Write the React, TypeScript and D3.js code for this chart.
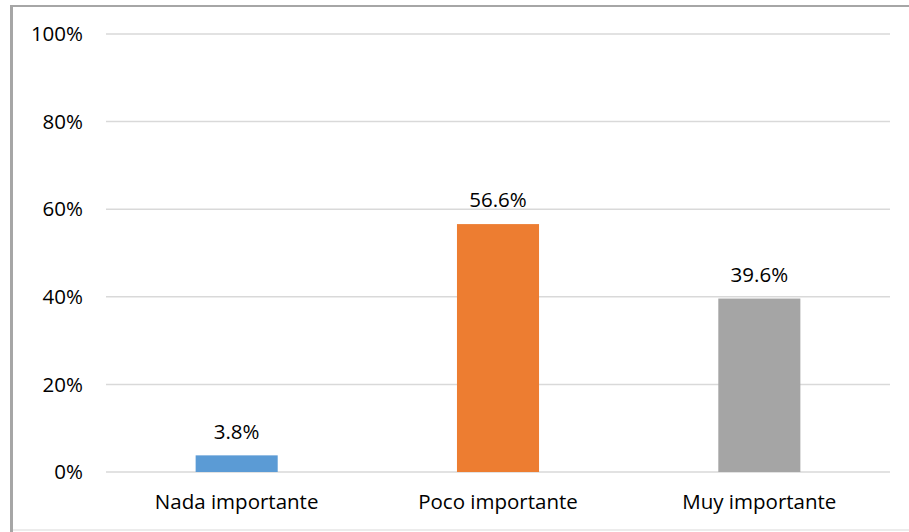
import React from "react";
import * as d3 from "d3";

const categories = ["Nada importante", "Poco importante", "Muy importante"];
const values = [3.8, 56.6, 39.6];
const colors = ["#5b9bd5", "#ed7d31", "#a5a5a5"];
const ticks = [0, 20, 40, 60, 80, 100];

export default function App() {
  const W = 909, H = 532;
  const left = 106, right = 890, top = 34, bottom = 472;
  const x = d3.scaleBand<string>().domain(categories).range([left, right]).paddingInner(0.686).paddingOuter(0.343);
  const y = d3.scaleLinear().domain([0, 100]).range([bottom, top]);
  const font = "'Open Sans', sans-serif";
  const fs = 20.5;
  return (
    <svg width={W} height={H} style={{ position: "absolute", left: 0, top: 0 }}>
      <rect x={0} y={0} width={W} height={H} fill="#fff" />
      <rect x={11.5} y={6} width={W} height={524} fill="none" stroke="#d9d9d9" strokeWidth={1} />
      <line x1={11.5} x2={11.5} y1={5} y2={532} stroke="#a6a6a6" strokeWidth={3} />
      <line x1={10} x2={W} y1={6} y2={6} stroke="#a6a6a6" strokeWidth={2} />
      {ticks.map((t) => (
        <g key={t}>
          <line x1={left} x2={right} y1={y(t)} y2={y(t)} stroke="#d9d9d9" strokeWidth={1.5} />
          <text x={83} y={y(t)} dy="0.35em" textAnchor="end" fontFamily={font} fontSize={fs} fill="#000">
            {t}%
          </text>
        </g>
      ))}
      {categories.map((c, i) => (
        <g key={c}>
          <rect x={x(c)} y={y(values[i])} width={x.bandwidth()} height={y(0) - y(values[i])} fill={colors[i]} />
          <text x={(x(c) as number) + x.bandwidth() / 2} y={y(values[i]) - 24} dy="0.35em" textAnchor="middle" fontFamily={font} fontSize={fs} fill="#000">
            {values[i].toFixed(1)}%
          </text>
          <text x={(x(c) as number) + x.bandwidth() / 2} y={502} dy="0.35em" textAnchor="middle" fontFamily={font} fontSize={fs} fill="#000">
            {c}
          </text>
        </g>
      ))}
    </svg>
  );
}
